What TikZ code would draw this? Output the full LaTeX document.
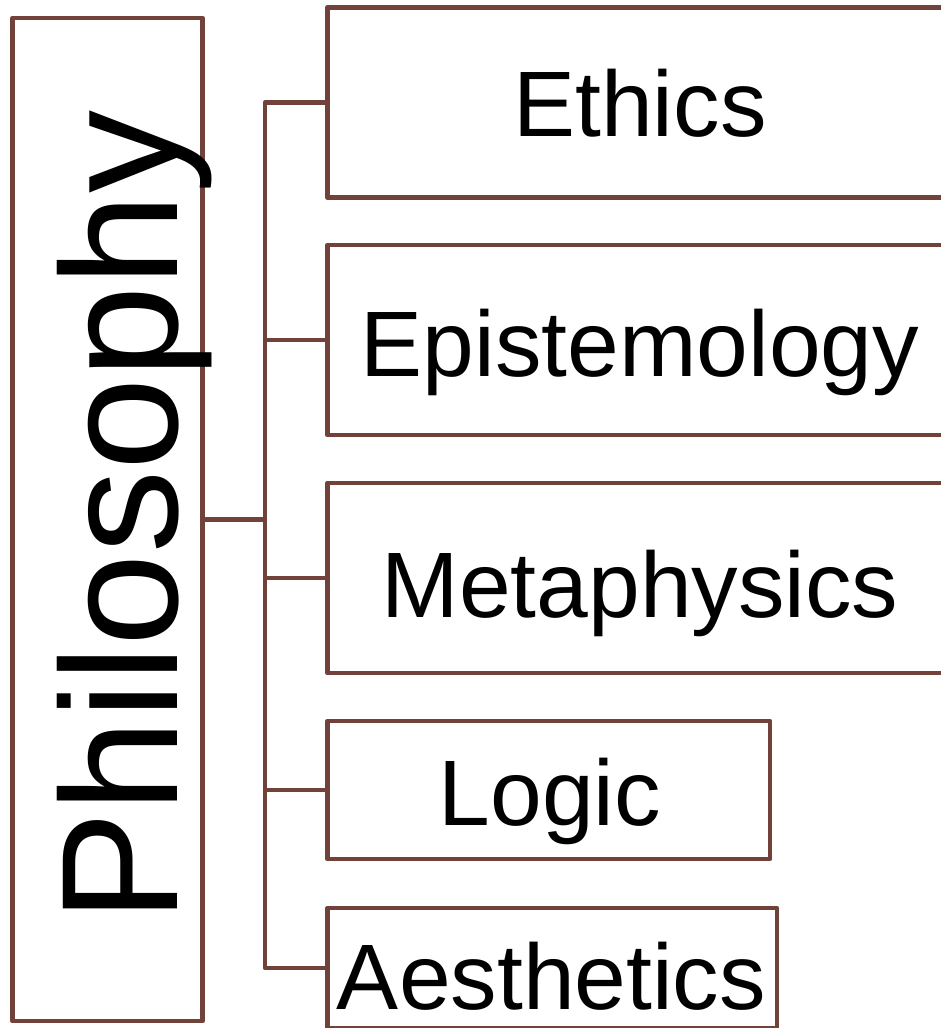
\documentclass[tikz,border=0pt]{standalone}
\usepackage{fontspec}
\setmainfont{Liberation Sans}
\definecolor{brn}{RGB}{112,66,57}
\begin{document}
\begin{tikzpicture}[x=1pt,y=-1pt,
  box/.style={draw=brn,line width=4.6pt,line join=round,inner sep=0pt,rectangle,fill=white},
  lbl/.style={inner sep=0pt,anchor=base,font=\fontsize{93}{100}\selectfont},
  conn/.style={draw=brn,line width=4.6pt,line join=round}]
\useasboundingbox (0,0) rectangle (941,1028);
\fill[white] (0,0) rectangle (941,1028);
\begin{scope}
\clip (0,0) rectangle (941,1028);
\node[box,minimum width=190pt,minimum height=1003pt] (philo) at (107.5,519.5) {};
\node[box,minimum width=632.5pt,minimum height=190pt] (ethics) at (643.75,102.5) {};
\node[box,minimum width=632.5pt,minimum height=190pt] (epist) at (643.75,340) {};
\node[box,minimum width=632.5pt,minimum height=190pt] (meta) at (643.75,578) {};
\node[box,minimum width=442.5pt,minimum height=138pt] (logic) at (548.75,790) {};
\node[box,minimum width=449.5pt,minimum height=120pt] (aesth) at (552.25,968) {};
\coordinate (jn) at (265,519.5);
\draw[conn] (philo.east) -- (jn);
\draw[conn] (jn) |- (ethics.west);
\draw[conn] (jn) |- (epist.west);
\draw[conn] (jn) |- (meta.west);
\draw[conn] (jn) |- (logic.west);
\draw[conn] (jn) |- (aesth.west);
\node[inner sep=0pt,rotate=90,anchor=base west,font=\fontsize{166}{180}\selectfont] (tphilo) at (177,923) {Philosophy};
\node[lbl] (tethics) at (640,136) {Ethics};
\node[lbl] (tepist) at (640,376) {Epistemology};
\node[lbl] (tmeta) at (640,617) {Metaphysics};
\node[lbl] (tlogic) at (550,825) {Logic};
\node[lbl] (taesth) at (551.5,1009) {Aesthetics};
\end{scope}
\end{tikzpicture}
\end{document}
